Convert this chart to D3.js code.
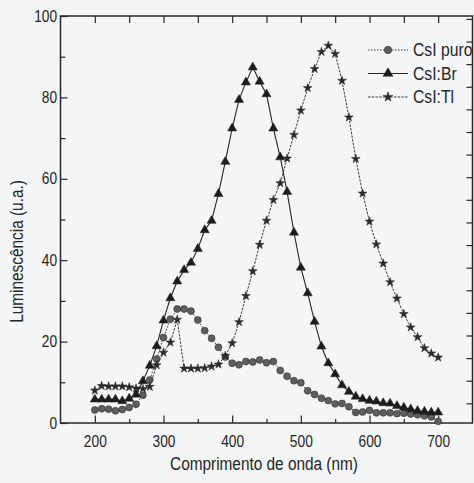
<!DOCTYPE html>
<html>
<head>
<meta charset="utf-8">
<script src="https://cdn.jsdelivr.net/npm/d3@7"></script>
<style>
  body { margin: 0; background: #f3f5f7; }
  svg { display: block; font-family: "Liberation Sans", Arial, sans-serif; }
</style>
</head>
<body>
<script>
const width = 474;
const height = 483;

// wavelength (nm) of every measured point
const wavelengths = [
  200, 210, 220, 230, 240, 250, 260, 270, 280, 290,
  300, 310, 320, 330, 340, 350, 360, 370, 380, 390,
  400, 410, 420, 430, 440, 450, 460, 470, 480, 490,
  500, 510, 520, 530, 540, 550, 560, 570, 580, 590,
  600, 610, 620, 630, 640, 650, 660, 670, 680, 690, 700
];

// luminescence (u.a.)
const csiPuro = [
  3.2, 3.5, 3.4, 3.0, 3.3, 3.8, 4.6, 6.8, 10.6, 15.7,
  21.0, 25.5, 28.0, 28.0, 27.5, 25.3, 22.7, 20.8, 18.6, 16.2,
  14.7, 14.3, 15.1, 15.0, 15.5, 14.8, 15.1, 12.9, 11.5, 10.4,
  9.9, 7.9, 7.0, 6.1, 5.5, 4.7, 4.8, 4.0, 2.6, 2.7,
  3.1, 2.5, 2.5, 2.5, 2.3, 2.4, 2.2, 2.0, 1.8, 1.5, 0.4
];
const csiBr = [
  5.8, 5.8, 5.8, 5.8, 5.4, 6.0, 7.0, 10.3, 14.1, 18.9,
  25.2, 30.7, 34.8, 37.6, 39.4, 42.8, 47.4, 49.7, 56.3, 64.2,
  72.4, 79.4, 83.7, 87.4, 83.9, 80.8, 72.4, 65.3, 56.8, 46.8,
  38.2, 31.9, 24.9, 18.8, 14.7, 12.0, 9.3, 7.7, 6.5, 5.9,
  5.5, 5.3, 4.9, 4.8, 4.2, 3.8, 3.4, 3.0, 2.8, 2.6, 2.6
];
const csiTl = [
  8.0, 9.1, 9.0, 9.0, 9.0, 8.8, 8.5, 8.4, 8.9, 14.2,
  17.3, 19.8, 25.4, 13.4, 13.4, 13.4, 13.5, 13.9, 14.4, 16.5,
  19.6, 24.8, 31.2, 37.3, 43.8, 49.7, 54.8, 58.9, 65.0, 70.8,
  76.8, 82.3, 87.0, 91.2, 92.7, 90.7, 84.1, 75.1, 64.9, 56.4,
  49.5, 43.9, 39.2, 34.6, 30.6, 26.8, 23.5, 21.1, 18.4, 17.1, 16.1
];

const seriesNames = ["CsI puro", "CsI:Br", "CsI:Tl"];

const xMajorTicks = [200, 300, 400, 500, 600, 700];
const xMinorTicks = [250, 350, 450, 550, 650];
const xTopTicks = [200, 250, 300, 350, 400, 450, 500, 550, 600, 650, 700];
const yMajorTicks = [0, 20, 40, 60, 80, 100];
const yMinorTicks = [10, 30, 50, 70, 90];
const rightTicks = [0, 1, 2, 3, 4, 5, 6, 7, 8, 9, 10, 11, 12, 13, 14, 15, 16, 17];

const plot = { left: 60.5, right: 472.5, top: 16, bottom: 423 };

const x = d3.scaleLinear().domain([150, 750]).range([plot.left, plot.right]);
const y = d3.scaleLinear().domain([0, 100]).range([plot.bottom, plot.top]);
// the unlabeled right frame carries its own tick spacing
const yRight = d3.scaleLinear().domain([-0.87, 17.13]).range([plot.bottom, plot.top]);

const svg = d3
  .select("body")
  .append("svg")
  .attr("width", width)
  .attr("height", height);

const ink = "#262626";

// axes: ticks point inward, frame drawn on its own
const addAxis = (axis, transform, size, labels) => {
  const g = svg
    .append("g")
    .attr("transform", transform)
    .call(axis.tickSizeInner(-size).tickSizeOuter(0));
  g.select(".domain").remove();
  g.selectAll(".tick line").attr("stroke", ink).attr("stroke-width", 1.2);
  if (!labels) g.selectAll(".tick text").remove();
  return g;
};

const bottomAxis = addAxis(
  d3.axisBottom(x).tickValues(xMajorTicks).tickPadding(12.5),
  `translate(0,${plot.bottom})`, 7.5, true
);
addAxis(d3.axisBottom(x).tickValues(xMinorTicks), `translate(0,${plot.bottom})`, 4, false);
addAxis(d3.axisTop(x).tickValues(xTopTicks), `translate(0,${plot.top})`, 7, false);

const leftAxis = addAxis(
  d3.axisLeft(y).tickValues(yMajorTicks).tickPadding(4),
  `translate(${plot.left},0)`, 7, true
);
addAxis(d3.axisLeft(y).tickValues(yMinorTicks), `translate(${plot.left},0)`, 5, false);
addAxis(d3.axisRight(yRight).tickValues(rightTicks), `translate(${plot.right},0)`, 6, false);

[bottomAxis, leftAxis].forEach((g) => {
  g.selectAll(".tick text")
    .attr("fill", ink)
    .attr("font-size", 16)
    .attr("font-family", "Liberation Sans, Arial, sans-serif")
    .attr("transform", "scale(0.86,1)");
});

svg
  .append("rect")
  .attr("x", plot.left)
  .attr("y", plot.top)
  .attr("width", plot.right - plot.left)
  .attr("height", plot.bottom - plot.top)
  .attr("fill", "none")
  .attr("stroke", ink)
  .attr("stroke-width", 1.5);

// series
const series = [
  { name: seriesNames[0], values: csiPuro, symbol: d3.symbolCircle, size: 38, fill: "#5e5e5e", dash: "1.5,1.5", lw: 0.9 },
  { name: seriesNames[1], values: csiBr, symbol: d3.symbolTriangle, size: 36, fill: "#1c1c1c", dash: null, lw: 1.1 },
  { name: seriesNames[2], values: csiTl, symbol: d3.symbolStar, size: 24, fill: "#2c2c2c", dash: "2.5,1.2", lw: 0.9 }
];

const line = d3
  .line()
  .x((d) => x(d[0]))
  .y((d) => y(d[1]));

series.forEach((s) => {
  const pts = wavelengths.map((w, i) => [w, s.values[i]]);
  svg
    .append("path")
    .datum(pts)
    .attr("d", line)
    .attr("fill", "none")
    .attr("stroke", ink)
    .attr("stroke-width", s.lw)
    .attr("stroke-dasharray", s.dash);

  svg
    .append("g")
    .selectAll("path")
    .data(pts)
    .enter()
    .append("path")
    .attr("d", d3.symbol().type(s.symbol).size(s.size))
    .attr("transform", (d) => `translate(${x(d[0])},${y(d[1])})`)
    .attr("fill", s.fill)
    .attr("stroke", "#222")
    .attr("stroke-width", 0.5);
});

// legend
const legendRows = [50, 73.5, 97];
const legend = svg.append("g");
series.forEach((s, i) => {
  const ly = legendRows[i];
  legend
    .append("line")
    .attr("x1", 368)
    .attr("x2", 408)
    .attr("y1", ly)
    .attr("y2", ly)
    .attr("stroke", ink)
    .attr("stroke-width", s.lw)
    .attr("stroke-dasharray", s.dash);
  legend
    .append("path")
    .attr("d", d3.symbol().type(s.symbol).size(s.size + 6))
    .attr("transform", `translate(388,${ly})`)
    .attr("fill", s.fill)
    .attr("stroke", "#222")
    .attr("stroke-width", 0.5);
  legend
    .append("text")
    .text(s.name)
    .attr("transform", `translate(413,${ly + 6.3}) scale(0.9,1)`)
    .attr("font-size", 17.5)
    .attr("fill", ink);
});

// axis titles
svg
  .append("text")
  .text("Comprimento de onda (nm)")
  .attr("transform", "translate(264,469.5) scale(0.81,1)")
  .attr("text-anchor", "middle")
  .attr("font-size", 19)
  .attr("fill", ink);

svg
  .append("text")
  .text("Luminescência (u.a.)")
  .attr("transform", "translate(23,251.5) rotate(-90) scale(0.81,1)")
  .attr("text-anchor", "middle")
  .attr("font-size", 19)
  .attr("fill", ink);
</script>
</body>
</html>
